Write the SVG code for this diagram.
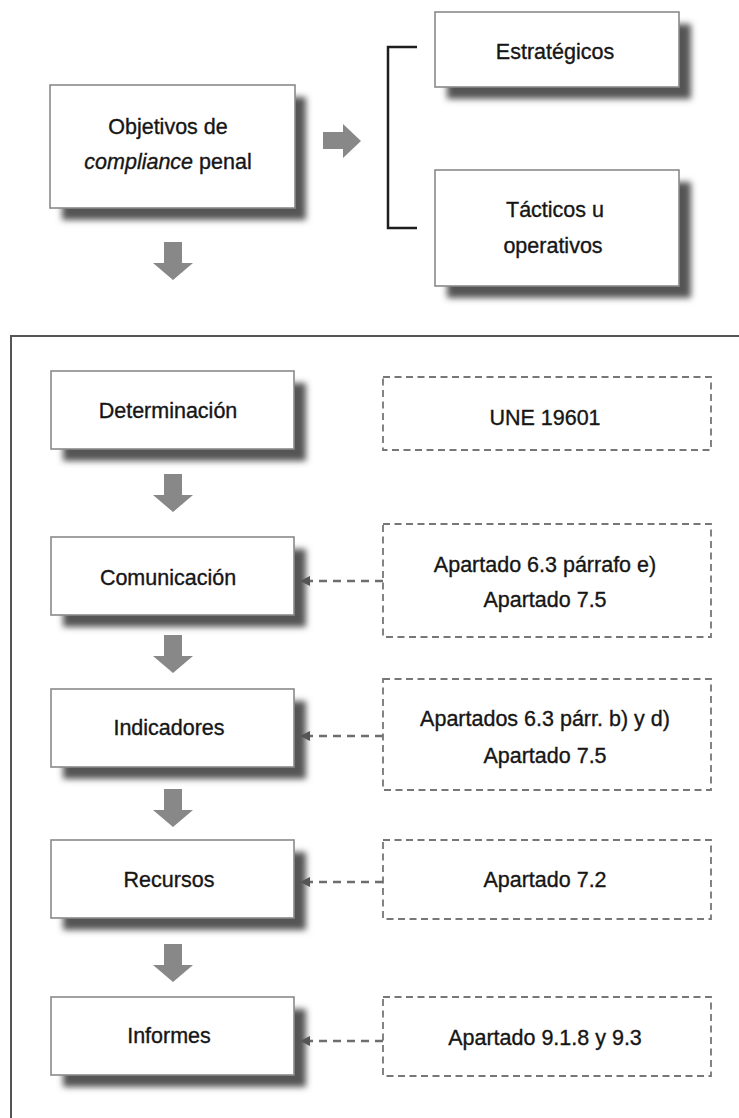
<svg xmlns="http://www.w3.org/2000/svg" width="739" height="1118" viewBox="0 0 739 1118">
<style>
.box{fill:#fff;stroke:#8a8a8a;stroke-width:1.6}
.shadow{fill:#555;filter:url(#blur)}
.dbox{fill:#fff;stroke:#777;stroke-width:1.8;stroke-dasharray:7 4.5}
.t{font-family:"Liberation Sans",Arial,sans-serif;font-size:21.5px;fill:#161616;stroke:#161616;stroke-width:0.35;text-anchor:middle}
.conn{stroke:#6e6e6e;stroke-width:2.6;stroke-dasharray:8 6;fill:none}
.garrow{fill:#888}
</style>
<defs>
<filter id="blur" x="-20%" y="-30%" width="140%" height="160%"><feGaussianBlur stdDeviation="3"/></filter>
<path id="down" d="M-9,-38 H9 V-17 H20 L0,0 L-20,-17 H-9 Z"/>
<marker id="ah" viewBox="0 0 10 10" refX="10" refY="5" markerWidth="10" markerHeight="12" markerUnits="userSpaceOnUse" orient="auto"><path d="M0,0 L10,5 L0,10 Z" fill="#555"/></marker>
</defs>
<rect width="739" height="1118" fill="#fff"/>

<rect x="11" y="336" width="800" height="900" fill="none" stroke="#555" stroke-width="2"/>

<g id="objetivos">
<rect class="shadow" x="62" y="97" width="244" height="123"/>
<rect class="box" x="50" y="85" width="245" height="123"/>
<text class="t" x="168" y="134">Objetivos de</text>
<text class="t" x="168" y="169"><tspan font-style="italic">compliance</tspan> penal</text>
</g>

<g id="estrategicos">
<rect class="shadow" x="447" y="24" width="244" height="75"/>
<rect class="box" x="435" y="12" width="244" height="75"/>
<text class="t" x="555" y="59">Estratégicos</text>
</g>

<g id="tacticos">
<rect class="shadow" x="447" y="182" width="244" height="116"/>
<rect class="box" x="435" y="170" width="244" height="116"/>
<text class="t" x="555" y="217">Tácticos u</text>
<text class="t" x="553" y="253">operativos</text>
</g>

<g id="determinacion">
<rect class="shadow" x="63" y="383" width="243" height="78"/>
<rect class="box" x="51" y="371" width="243" height="78"/>
<text class="t" x="168" y="418">Determinación</text>
</g>

<g id="comunicacion">
<rect class="shadow" x="63" y="549" width="243" height="78"/>
<rect class="box" x="51" y="537" width="243" height="78"/>
<text class="t" x="168" y="585">Comunicación</text>
</g>

<g id="indicadores">
<rect class="shadow" x="63" y="701" width="243" height="78"/>
<rect class="box" x="51" y="689" width="243" height="78"/>
<text class="t" x="169" y="735">Indicadores</text>
</g>

<g id="recursos">
<rect class="shadow" x="63" y="852" width="243" height="78"/>
<rect class="box" x="51" y="840" width="243" height="78"/>
<text class="t" x="169" y="887">Recursos</text>
</g>

<g id="informes">
<rect class="shadow" x="63" y="1009" width="243" height="78"/>
<rect class="box" x="51" y="997" width="243" height="78"/>
<text class="t" x="169" y="1043">Informes</text>
</g>

<g id="une">
<rect class="dbox" x="383" y="377" width="328" height="73"/>
<text class="t" x="545" y="425">UNE 19601</text>
</g>

<g id="ref-comunicacion">
<rect class="dbox" x="383" y="524" width="328" height="113"/>
<text class="t" x="545" y="572">Apartado 6.3 párrafo e)</text>
<text class="t" x="545" y="607">Apartado 7.5</text>
</g>

<g id="ref-indicadores">
<rect class="dbox" x="383" y="679" width="328" height="111"/>
<text class="t" x="545" y="726">Apartados 6.3 párr. b) y d)</text>
<text class="t" x="545" y="763">Apartado 7.5</text>
</g>

<g id="ref-recursos">
<rect class="dbox" x="383" y="840" width="328" height="79"/>
<text class="t" x="545" y="887">Apartado 7.2</text>
</g>

<g id="ref-informes">
<rect class="dbox" x="383" y="997" width="328" height="79"/>
<text class="t" x="545" y="1045">Apartado 9.1.8 y 9.3</text>
</g>

<g id="connectors">
<path d="M417,47 H388 V228 H417" fill="none" stroke="#1e1e1e" stroke-width="2.5"/>
<path class="garrow" d="M323,132 H343 V124 L361,141 L343,158 V149 H323 Z"/>
<use href="#down" class="garrow" x="173" y="280"/>
<use href="#down" class="garrow" x="173" y="512"/>
<use href="#down" class="garrow" x="173" y="673"/>
<use href="#down" class="garrow" x="173" y="827"/>
<use href="#down" class="garrow" x="173" y="982"/>
<line class="conn" x1="383" y1="581" x2="300" y2="581" marker-end="url(#ah)"/>
<line class="conn" x1="383" y1="736" x2="300" y2="736" marker-end="url(#ah)"/>
<line class="conn" x1="383" y1="882" x2="300" y2="882" marker-end="url(#ah)"/>
<line class="conn" x1="383" y1="1041" x2="300" y2="1041" marker-end="url(#ah)"/>
</g>
</svg>
